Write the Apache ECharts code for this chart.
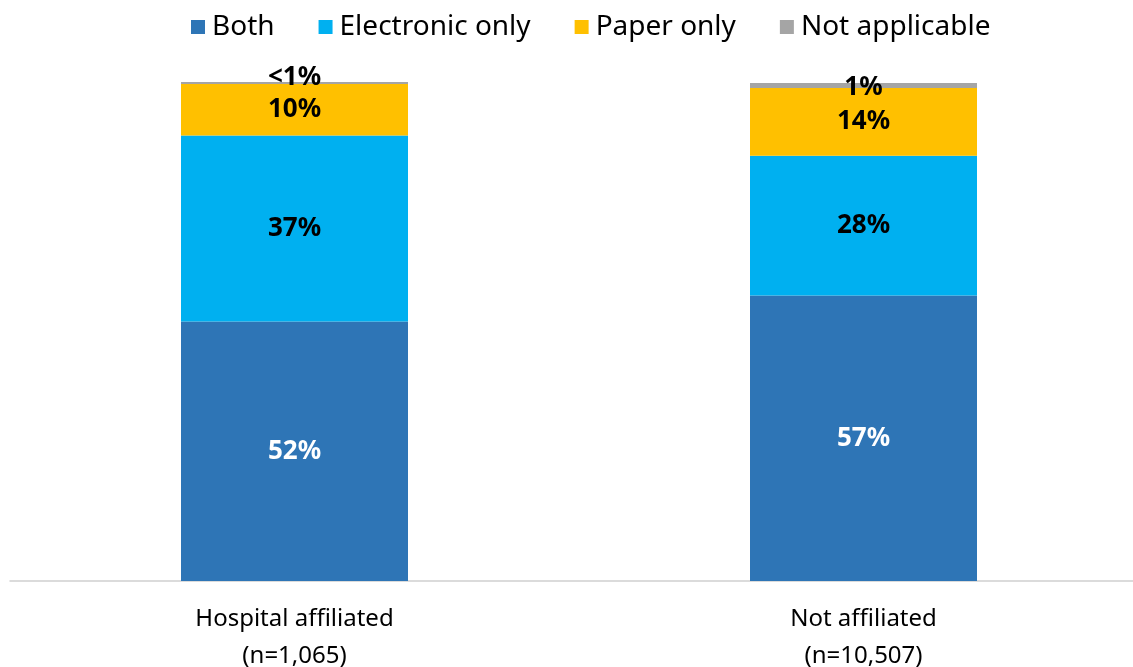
<!DOCTYPE html>
<html><head><meta charset="utf-8">
<script src="https://cdn.jsdelivr.net/npm/echarts@6/dist/echarts.min.js"></script>
<style>html,body{margin:0;padding:0;background:#fff}#c{width:1133px;height:667px}</style>
</head><body><div id="c"></div>
<script>
const categories = ['Hospital affiliated\n(n=1,065)', 'Not affiliated\n(n=10,507)'];
const seriesNames = ['Both', 'Electronic only', 'Paper only', 'Not applicable'];
const both = [52.0, 57.2];
const electronic = [37.3, 28.0];
const paper = [10.3, 13.6];
const notApplicable = [0.4, 1.0];
const bothLabels = ['52%', '57%'];
const electronicLabels = ['37%', '28%'];
const paperLabels = ['10%', '14%'];
const notApplicableLabels = ['<1%', '1%'];

const colors = ['#2E75B6', '#00B0F0', '#FFC000', '#A5A5A5'];
const values = [both, electronic, paper, notApplicable];
const labels = [bothLabels, electronicLabels, paperLabels, notApplicableLabels];
const FONT = '"Noto Sans", sans-serif';

const series = values.map((vals, si) => ({
  name: seriesNames[si],
  type: 'bar',
  stack: 'total',
  barWidth: 227,
  itemStyle: { color: colors[si] },
  data: vals.map((v, i) => {
    const item = { value: v };
    if (si === 3 && i === 0) item.label = { offset: [0, -5] };
    if (si === 3 && i === 1) item.label = { offset: [0, 2] };
    return item;
  }),
  label: {
    show: true,
    position: 'inside',
    formatter: p => labels[si][p.dataIndex],
    color: si === 0 ? '#ffffff' : '#000000',
    fontWeight: 'bold',
    fontSize: 26,
    fontFamily: FONT
  }
}));

const chart = echarts.init(document.getElementById('c'));
chart.setOption({
  animation: false,
  color: colors,
  legend: {
    top: 8,
    left: 186,
    itemWidth: 14,
    itemHeight: 14,
    itemGap: 44,
    icon: 'rect',
    textStyle: { fontSize: 28, fontFamily: FONT, color: '#000', padding: [0, 0, 0, 2] },
    data: seriesNames
  },
  grid: { left: 10, width: 1138, top: 82, bottom: 86, outerBoundsMode: 'none', containLabel: false },
  xAxis: {
    type: 'category',
    data: categories,
    axisLine: { lineStyle: { color: '#D0D0D0', width: 1.5 } },
    axisTick: { show: false },
    axisLabel: { fontSize: 24, fontFamily: FONT, color: '#000', margin: 20, lineHeight: 37 }
  },
  yAxis: {
    type: 'value',
    min: 0,
    max: 100,
    show: false,
    splitLine: { show: false }
  },
  series: series
});
</script></body></html>
